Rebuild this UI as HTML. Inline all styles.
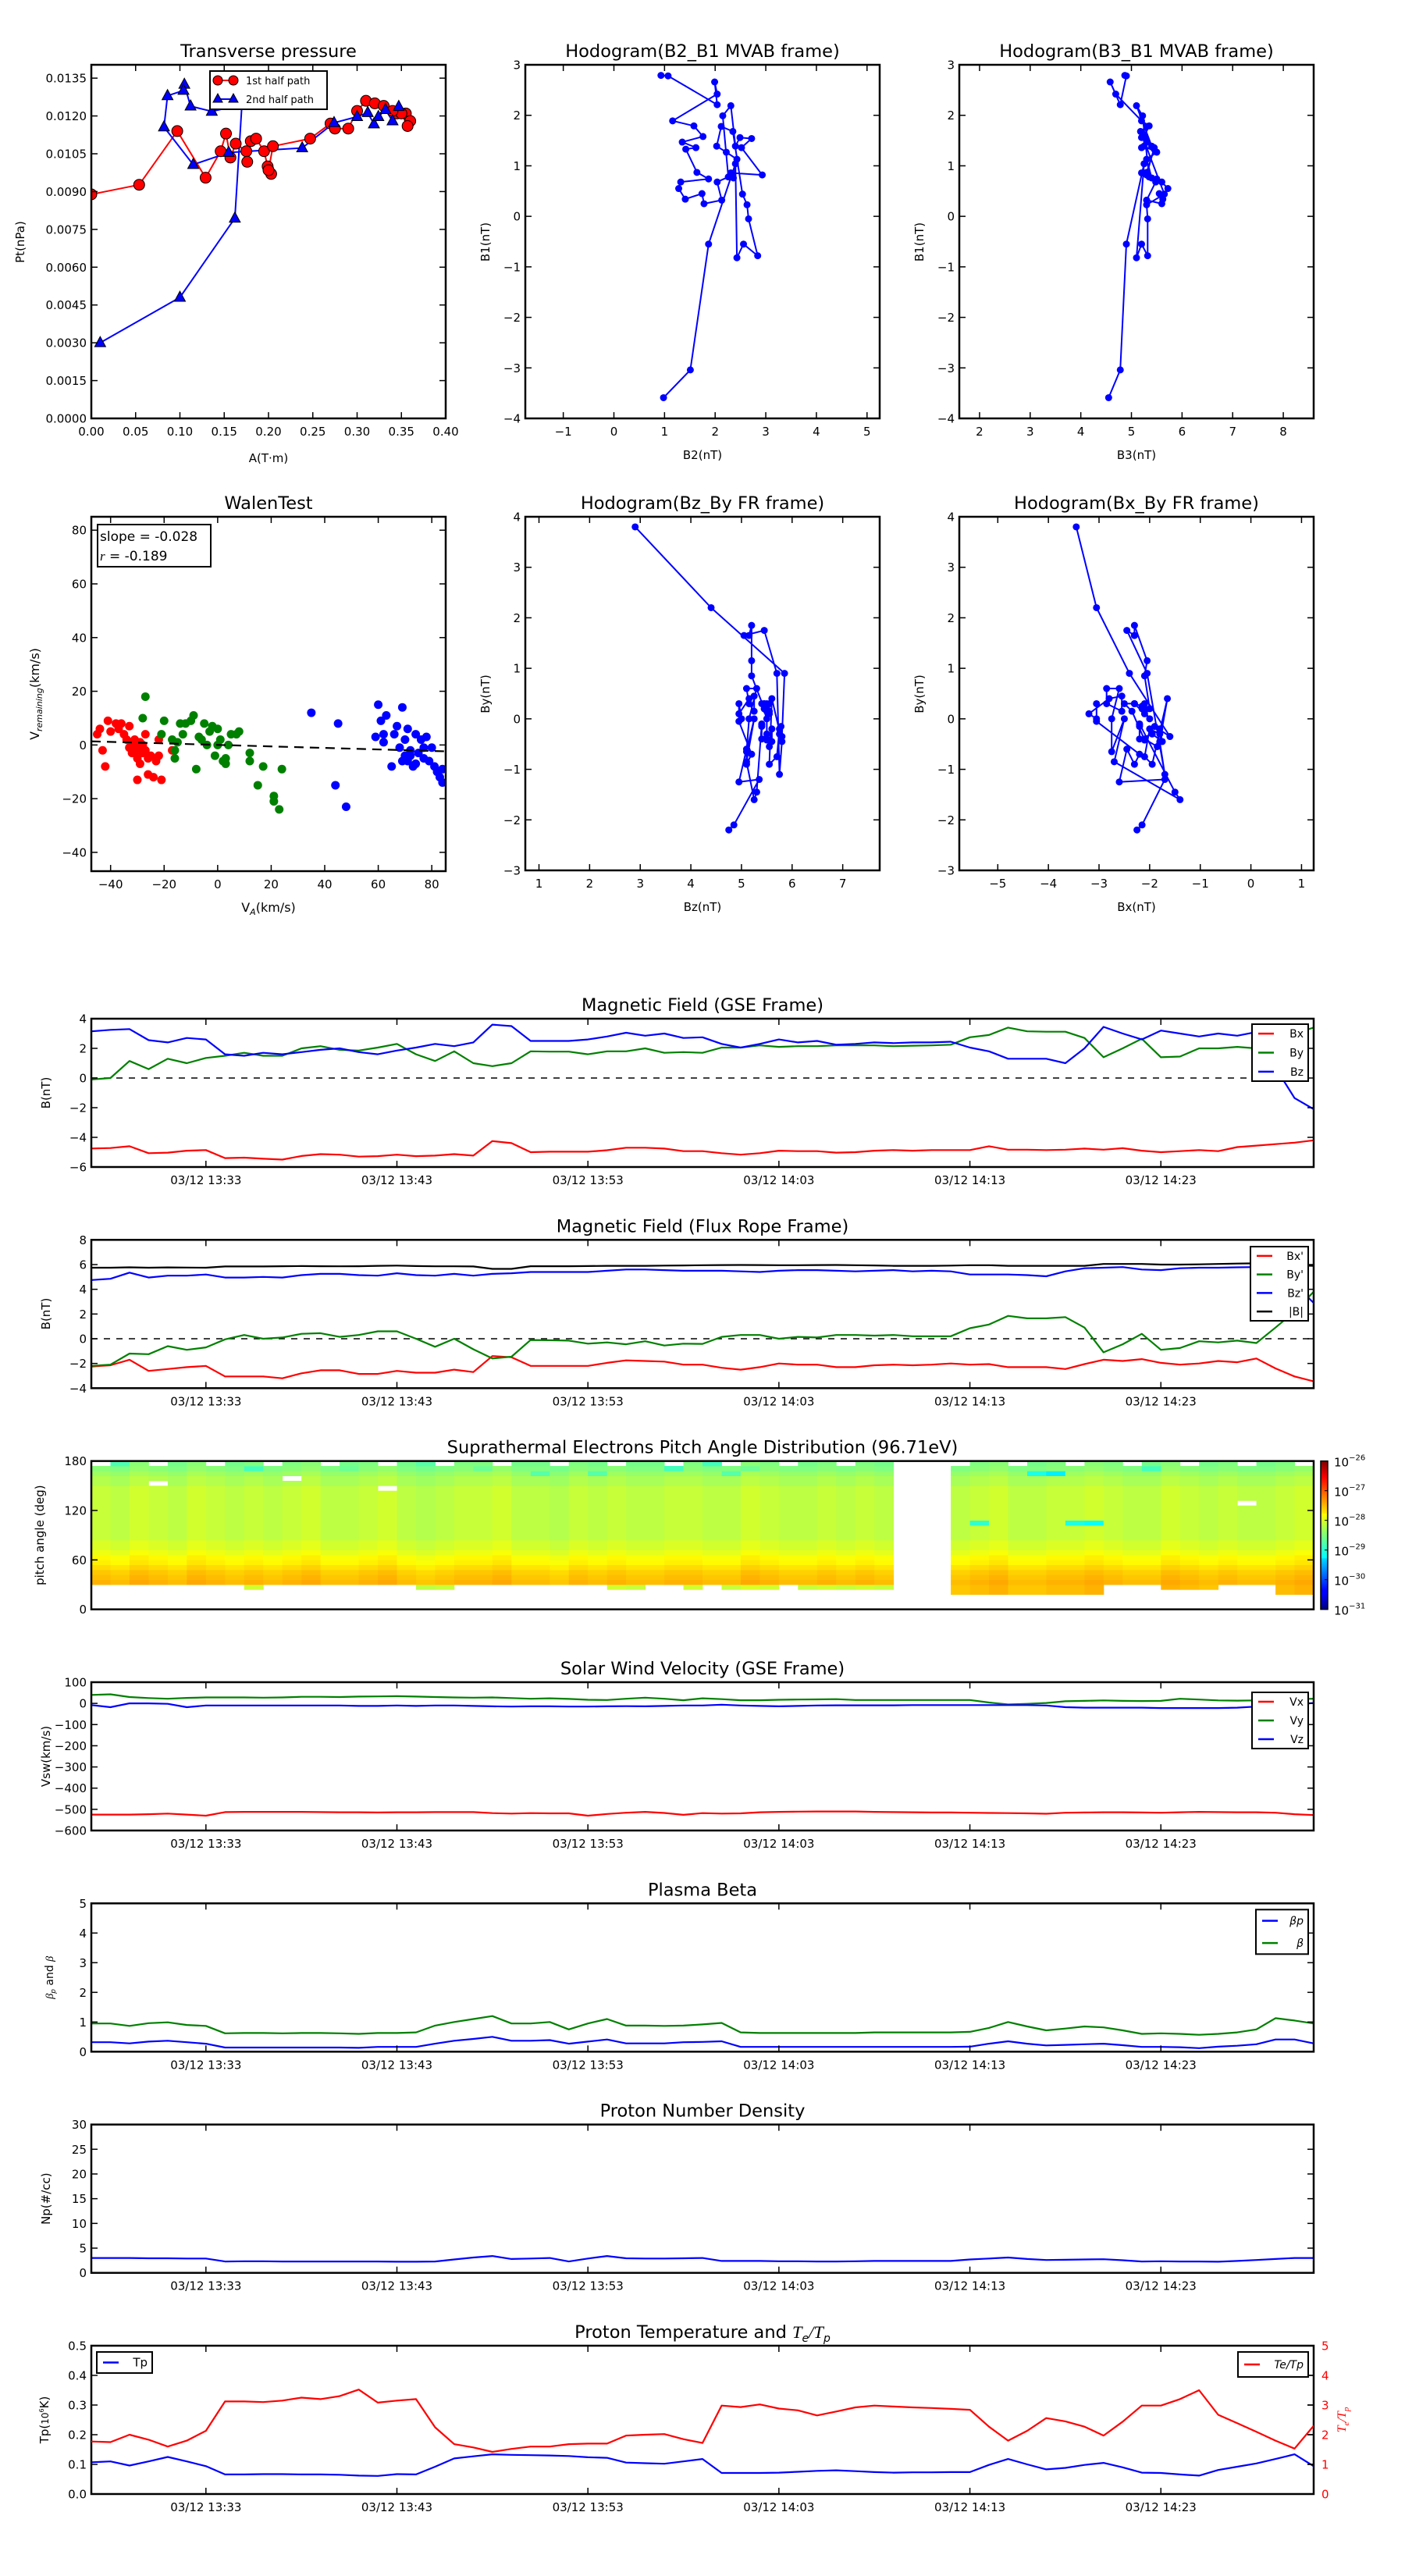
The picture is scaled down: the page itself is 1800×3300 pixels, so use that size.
<!DOCTYPE html>
<html><head><meta charset="utf-8"><title>Flux rope analysis</title>
<style>
html,body{margin:0;padding:0;background:#fff;}
svg{display:block;font-family:"DejaVu Sans","Liberation Sans",sans-serif;}
</style></head>
<body>
<svg id="fig" xmlns="http://www.w3.org/2000/svg" width="1800" height="3300" viewBox="0 0 1800 3300">
<rect x="0" y="0" width="1800" height="3300" fill="#fff"/>
<defs>
<linearGradient id="jet" x1="0" y1="1" x2="0" y2="0">
<stop offset="0" stop-color="#00007f"/><stop offset="0.11" stop-color="#0000ff"/><stop offset="0.125" stop-color="#0000ff"/>
<stop offset="0.34" stop-color="#00d4ff"/><stop offset="0.35" stop-color="#0ff"/><stop offset="0.5" stop-color="#7dff7a"/>
<stop offset="0.64" stop-color="#ff0"/><stop offset="0.65" stop-color="#ffe600"/><stop offset="0.89" stop-color="#f00"/><stop offset="1" stop-color="#7f0000"/>
</linearGradient>
</defs>
</svg>
<script>
// ---------------- DATA ----------------
// Transverse pressure
const tpA1=[0,0.054,0.097,0.129,0.146,0.152,0.157,0.163,0.175,0.176,0.18,0.186,0.195,0.199,0.203,0.2,0.205,0.247,0.27,0.275,0.29,0.3,0.31,0.32,0.33,0.345,0.355,0.36,0.357,0.35,0.34];
const tpP1=[0.00889,0.00927,0.0114,0.00955,0.0106,0.0113,0.01035,0.0109,0.0106,0.01018,0.011,0.0111,0.0106,0.01,0.0097,0.00985,0.0108,0.0111,0.0117,0.0115,0.0115,0.0122,0.0126,0.0125,0.0124,0.0121,0.0121,0.0118,0.0116,0.0121,0.0122];
const tpA2=[0.01,0.1,0.162,0.17,0.136,0.112,0.105,0.104,0.086,0.082,0.115,0.155,0.238,0.274,0.3,0.312,0.319,0.324,0.332,0.34,0.347];
const tpP2=[0.003,0.0048,0.00794,0.01244,0.01218,0.01239,0.01325,0.01301,0.0128,0.01156,0.01007,0.01055,0.01073,0.01173,0.01197,0.01213,0.01168,0.01197,0.01225,0.0118,0.01237];
// MVAB hodogram
const mvB2=[0.93,1.07,2.04,1.99,2.04,1.16,1.58,1.76,1.35,1.62,1.42,1.64,1.87,1.32,1.28,1.41,1.74,1.78,2.13,2.04,2.26,2.15,2.31,2.4,2.49,2.72,2.52,2.93,2.31,2.36,2.43,2.22,2.03,2.12,2.35,2.54,2.63,2.66,2.84,2.56,2.43,2.4,1.87,1.51,0.98];
const mvB1=[2.79,2.78,2.21,2.66,2.42,1.89,1.79,1.58,1.47,1.36,1.33,0.87,0.74,0.68,0.55,0.34,0.45,0.25,0.32,0.68,0.78,1.99,2.19,1.39,1.56,1.54,1.36,0.82,0.86,0.76,1.13,1.27,1.39,1.78,1.68,0.44,0.23,-0.05,-0.78,-0.55,-0.82,1.04,-0.55,-3.04,-3.59];
const mvB3=[4.87,4.9,4.78,4.58,4.69,5.2,5.35,5.25,5.3,5.2,5.45,5.3,5.5,5.6,5.72,5.62,5.55,5.6,5.3,5.48,5.35,5.22,5.1,5.4,5.2,5.28,5.45,5.3,5.2,5.4,5.3,5.5,5.25,5.3,5.18,5.65,5.3,5.32,5.32,5.2,5.1,5.25,4.9,4.78,4.55];
// Walen test
const wRedVA=[-44,-45,-43,-41,-42,-40,-38,-37,-36,-35,-34,-33,-32,-31,-31,-30,-30,-29,-28,-27,-27,-26,-25,-24,-23,-22,-21,-33,-32,-29,-26,-17,-30,-28,-31,-22];
const wRedVR=[6,4,-2,9,-8,5,8,6,8,4,2,7,0,-3,2,-5,-13,-7,0,-2,4,-11,-4,-12,-6,-4,-13,-1,-3,1,-5,-2,-1,-3,0,2];
const wGrnVA=[-27,-28,-20,-21,-16,-16,-15,-13,-12,-10,-9,-8,-7,-5,-4,-3,-2,-1,0,1,2,3,4,5,7,8,12,12,15,17,21,21,23,24,-6,0,-14,-17,3];
const wGrnVR=[18,10,9,4,-2,-5,1,4,8,9,11,-9,3,8,0,5,7,-4,6,2,-6,-7,0,4,4,5,-3,-6,-15,-8,-21,-19,-24,-9,2,0,8,2,-5];
const wBluVA=[35,44,45,48,59,60,61,62,63,65,66,67,68,69,69,70,71,71,72,73,74,75,76,77,77,78,79,80,81,82,83,84,84,72,74,62,70];
const wBluVR=[12,-15,8,-23,3,15,9,1,11,-8,4,7,-1,14,-6,2,6,-6,-2,-8,4,-3,2,-5,-1,3,-6,-1,-8,-10,-12,-9,-14,-4,-7,4,-4];
const walenSlope=-0.028, walenIntercept=0.02;
// Time series (1-minute samples from 13:27)
const tickMinutes=[6,16,26,36,46,56];
const tickLabels=["03/12 13:33","03/12 13:43","03/12 13:53","03/12 14:03","03/12 14:13","03/12 14:23"];
const gseBx=[-4.75,-4.72,-4.6,-5.07,-5.03,-4.9,-4.86,-5.4,-5.37,-5.44,-5.5,-5.26,-5.13,-5.17,-5.3,-5.27,-5.17,-5.27,-5.23,-5.13,-5.23,-4.25,-4.39,-5.0,-4.97,-4.97,-4.97,-4.87,-4.7,-4.7,-4.76,-4.93,-4.93,-5.07,-5.17,-5.07,-4.9,-4.93,-4.93,-5.03,-5.0,-4.9,-4.86,-4.9,-4.86,-4.86,-4.86,-4.6,-4.83,-4.83,-4.86,-4.83,-4.76,-4.83,-4.73,-4.9,-5.0,-4.93,-4.86,-4.93,-4.66,-4.56,-4.46,-4.36,-4.2];
const gseBy=[-0.1,0,1.15,0.6,1.3,1.0,1.35,1.5,1.7,1.5,1.5,2.0,2.15,1.9,1.85,2.05,2.3,1.6,1.15,1.8,1.0,0.8,1.0,1.8,1.78,1.78,1.6,1.8,1.8,2.0,1.7,1.75,1.7,2.05,2.05,2.2,2.1,2.15,2.15,2.2,2.2,2.2,2.15,2.18,2.2,2.25,2.75,2.9,3.4,3.15,3.12,3.12,2.7,1.4,2.0,2.65,1.4,1.45,2.0,2.0,2.1,2.0,2.2,3.0,3.4];
const gseBz=[3.15,3.25,3.3,2.55,2.4,2.7,2.6,1.6,1.5,1.7,1.6,1.75,1.9,2.0,1.75,1.6,1.85,2.05,2.3,2.15,2.4,3.6,3.5,2.5,2.5,2.5,2.6,2.8,3.05,2.85,3.0,2.7,2.75,2.3,2.05,2.3,2.6,2.4,2.5,2.25,2.3,2.4,2.35,2.4,2.4,2.45,2.05,1.8,1.3,1.3,1.3,1.0,2.0,3.45,3.0,2.6,3.2,3.0,2.8,3.0,2.85,3.1,0.7,-1.35,-2.1];
const frBx=[-2.25,-2.15,-1.7,-2.6,-2.45,-2.3,-2.2,-3.05,-3.05,-3.05,-3.2,-2.8,-2.55,-2.55,-2.85,-2.85,-2.6,-2.75,-2.75,-2.5,-2.7,-1.4,-1.5,-2.2,-2.2,-2.2,-2.2,-1.95,-1.75,-1.8,-1.85,-2.1,-2.1,-2.35,-2.5,-2.3,-2.0,-2.1,-2.1,-2.3,-2.3,-2.15,-2.1,-2.15,-2.1,-2.0,-2.1,-2.05,-2.3,-2.3,-2.3,-2.45,-2.05,-1.7,-1.8,-1.65,-1.95,-2.1,-2.0,-1.8,-1.9,-1.6,-2.4,-3.05,-3.45];
const frBy=[-2.2,-2.1,-1.2,-1.25,-0.6,-0.9,-0.7,-0.05,0.3,0,0.1,0.4,0.45,0.15,0.3,0.6,0.6,0,-0.65,0,-0.85,-1.6,-1.45,-0.1,-0.12,-0.15,-0.4,-0.3,-0.45,-0.2,-0.55,-0.4,-0.42,0.15,0.3,0.3,0,0.15,0.1,0.3,0.3,0.25,0.3,0.2,0.2,0.2,0.85,1.15,1.85,1.65,1.65,1.75,0.9,-1.1,-0.45,0.4,-0.9,-0.75,-0.2,-0.3,-0.15,-0.35,0.9,2.2,3.8];
const frBz=[4.75,4.85,5.35,4.95,5.1,5.1,5.2,4.95,4.95,5.0,4.95,5.15,5.25,5.25,5.15,5.1,5.3,5.15,5.1,5.25,5.1,5.25,5.3,5.4,5.4,5.4,5.4,5.5,5.6,5.6,5.55,5.5,5.5,5.5,5.45,5.4,5.5,5.55,5.55,5.5,5.45,5.5,5.55,5.45,5.5,5.45,5.2,5.2,5.2,5.15,5.05,5.45,5.7,5.75,5.8,5.6,5.55,5.7,5.75,5.75,5.78,5.8,5.85,4.4,2.9];
const frBt=[5.75,5.75,5.78,5.75,5.77,5.76,5.75,5.85,5.85,5.85,5.87,5.88,5.87,5.86,5.87,5.9,5.92,5.88,5.86,5.86,5.85,5.65,5.65,5.87,5.87,5.87,5.88,5.9,5.9,5.9,5.92,5.93,5.95,5.96,5.97,5.96,5.95,5.95,5.96,5.97,5.95,5.93,5.9,5.9,5.9,5.92,5.95,5.95,5.9,5.9,5.9,5.9,5.9,6.05,6.05,6.05,6.0,6.0,6.02,6.05,6.08,6.1,6.0,5.95,5.9];
// Pitch-angle distribution: log10 flux = row profile + column offset
const padRowProfile=[null,null,null,-27.6,-28.15,-27.55,-27.6,-27.65,-27.75,-27.85,-27.9,-28.0,-28.1,-28.1,-28.2,-28.2,-28.2,-28.2,-28.2,-28.2,-28.2,-28.2,-28.2,-28.2,-28.2,-28.3,-28.3,-28.4,-28.5,-28.55];
const padColOffset=[0.05,0,0.1,0.05,0,0.1,0.05,0,0.05,0, 0.05,0.1,0,0,0.05,0.1,0,-0.05,0,0.05, 0.05,0.1,0,0,-0.05,0.05,0,0.05,0,0, 0.05,0.05,0,0,0.1,0.05,0,0,0.05,0, 0.05,0,null,null,null,0,0.05,0.1,0,0, 0.05,0.05,0.1,0.05,0,0,0.1,0.05,0,0.05, 0,0,0.05,0.1];
const padMinBin=[5,5,5,5,5,5,5,5,4,5, 5,5,5,5,5,5,5,4,4,5, 5,5,5,5,5,5,5,4,4,5, 5,4,5,4,4,4,5,4,4,4, 4,4,0,0,0,3,3,3,2,2, 3,3,3,5,5,5,4,4,4,5, 5,5,3,3];
const padSpecialCols=[1,6,8,13,17,18,20,26,32,33,34,49,50,51,52,3,10,15,23,30,46,55,60];
const padSpecialBins=[29,29,28,28,29,29,28,27,29,27,28,27,27,17,17,25,26,24,27,28,17,28,21];
const padSpecialVals=[-28.75,-28.7,-28.8,-28.6,-28.7,-28.75,-28.6,-28.7,-28.8,-28.7,-28.6,-29.0,-29.2,-29.0,-29.1,null,null,null,-28.7,-28.8,-28.9,-28.8,null];
const cbarTicks=[-26,-27,-28,-29,-30,-31];
// Solar wind velocity
const vx=[-525,-525,-525,-523,-520,-525,-530,-513,-512,-512,-512,-512,-513,-514,-514,-515,-514,-514,-513,-513,-513,-518,-520,-518,-519,-519,-530,-522,-516,-512,-517,-526,-518,-520,-519,-514,-512,-511,-510,-510,-510,-512,-513,-514,-515,-515,-516,-517,-518,-519,-521,-516,-515,-514,-514,-515,-516,-514,-512,-513,-514,-514,-516,-523,-527];
const vy=[40,43,30,25,22,26,28,28,28,27,28,31,31,30,32,33,34,32,30,28,27,28,25,22,24,21,17,16,22,27,22,15,24,20,15,15,17,18,19,20,16,16,16,16,16,16,16,4,-5,-2,2,10,12,14,12,11,12,22,18,14,13,14,16,20,22];
const vz=[-8,-18,0,0,-2,-18,-10,-10,-10,-10,-10,-10,-10,-10,-12,-12,-10,-12,-10,-10,-12,-14,-15,-14,-14,-15,-15,-14,-13,-14,-12,-10,-10,-6,-10,-12,-14,-12,-10,-9,-9,-9,-9,-8,-8,-8,-8,-8,-8,-8,-10,-18,-20,-20,-20,-20,-22,-22,-22,-22,-20,-15,-10,-5,2];
// Plasma beta
const betaP=[0.32,0.32,0.28,0.34,0.37,0.32,0.27,0.14,0.14,0.14,0.14,0.14,0.14,0.14,0.13,0.16,0.16,0.16,0.27,0.37,0.43,0.5,0.37,0.37,0.39,0.27,0.34,0.41,0.28,0.28,0.28,0.32,0.33,0.35,0.16,0.16,0.16,0.16,0.16,0.16,0.16,0.16,0.16,0.16,0.16,0.16,0.17,0.27,0.35,0.27,0.21,0.23,0.25,0.27,0.22,0.16,0.16,0.15,0.12,0.17,0.2,0.25,0.41,0.41,0.28];
const betaT=[0.95,0.95,0.87,0.96,0.99,0.9,0.87,0.62,0.63,0.63,0.62,0.63,0.63,0.62,0.6,0.63,0.63,0.65,0.88,1.0,1.1,1.2,0.95,0.95,1.0,0.75,0.95,1.1,0.88,0.88,0.87,0.88,0.92,0.97,0.65,0.63,0.63,0.63,0.63,0.63,0.63,0.65,0.65,0.65,0.65,0.65,0.67,0.8,1.0,0.85,0.72,0.78,0.85,0.82,0.72,0.6,0.62,0.6,0.57,0.6,0.65,0.75,1.13,1.05,0.95];
// Density
const np=[3.0,3.0,3.0,2.95,2.95,2.9,2.9,2.3,2.35,2.35,2.3,2.3,2.3,2.3,2.3,2.3,2.25,2.25,2.3,2.7,3.1,3.4,2.8,2.9,3.0,2.3,2.9,3.4,2.95,2.9,2.9,2.95,3.0,2.4,2.4,2.4,2.35,2.35,2.3,2.3,2.35,2.4,2.4,2.4,2.4,2.4,2.7,2.9,3.1,2.8,2.6,2.65,2.7,2.75,2.55,2.3,2.35,2.3,2.3,2.25,2.4,2.6,2.8,3.0,3.0];
// Temperature
const tp=[0.107,0.11,0.096,0.11,0.125,0.11,0.094,0.066,0.066,0.067,0.067,0.066,0.066,0.065,0.062,0.061,0.067,0.066,0.092,0.12,0.127,0.134,0.132,0.131,0.13,0.128,0.124,0.122,0.106,0.104,0.102,0.11,0.118,0.071,0.071,0.071,0.072,0.075,0.078,0.08,0.077,0.074,0.072,0.073,0.073,0.074,0.074,0.098,0.118,0.1,0.083,0.088,0.098,0.105,0.09,0.072,0.071,0.066,0.062,0.081,0.092,0.103,0.118,0.134,0.094];
const teTp=[1.77,1.75,2.0,1.83,1.6,1.8,2.13,3.12,3.12,3.1,3.15,3.25,3.2,3.3,3.52,3.08,3.15,3.2,2.25,1.68,1.57,1.42,1.52,1.6,1.6,1.68,1.7,1.7,1.97,2.0,2.02,1.85,1.72,2.98,2.93,3.02,2.88,2.82,2.65,2.78,2.92,2.98,2.95,2.92,2.9,2.87,2.84,2.27,1.8,2.13,2.56,2.45,2.27,1.97,2.44,2.98,2.98,3.2,3.5,2.67,2.39,2.1,1.8,1.53,2.3];

// ---------------- DRAWING ----------------
const NS='http://www.w3.org/2000/svg';
const svg=document.getElementById('fig');
function mk(tag,attrs,parent){const e=document.createElementNS(NS,tag);for(const k in attrs)e.setAttribute(k,attrs[k]);(parent||svg).appendChild(e);return e;}
function text(x,y,s,size,anchor,parent,name,extra){
  const t=mk('text',Object.assign({x:x,y:y,'font-size':size,'text-anchor':anchor||'middle',fill:'#000'},extra||{}),parent);
  t.textContent=s;
  
  
  return t;
}
const MINUS='\u2212';
function fmt(v,d){const s=Math.abs(v).toFixed(d);return (v<0?MINUS:'')+s;}
let clipId=0;
function axes(name,x0,y0,w,h,xr,yr){
  const g=mk('g',{});
  
  
  const id='clip'+(clipId++);
  const cp=mk('clipPath',{id:id},g);
  mk('rect',{x:x0,y:y0,width:w,height:h},cp);
  const inner=mk('g',{'clip-path':'url(#'+id+')'},g);
  
  
  return {g,inner,x0,y0,w,h,xr,yr,
    sx:v=>x0+(v-xr[0])/(xr[1]-xr[0])*w,
    sy:v=>y0+h-(v-yr[0])/(yr[1]-yr[0])*h};
}
function frame(ax){
  const r=mk('rect',{x:ax.x0,y:ax.y0,width:ax.w,height:ax.h,fill:'none',stroke:'#000','stroke-width':2.5},ax.g);
  
  
}
function yticks(ax,vals,labels,opts){
  opts=opts||{};
  const g=mk('g',{},ax.g);
  
  
  vals.forEach((v,i)=>{
    const y=ax.sy(v);
    if(!opts.noLeft) mk('line',{x1:ax.x0,x2:ax.x0+8,y1:y,y2:y,stroke:'#000','stroke-width':1.5},g);
    mk('line',{x1:ax.x0+ax.w-8,x2:ax.x0+ax.w,y1:y,y2:y,stroke:'#000','stroke-width':1.5},g);
    if(opts.right) text(ax.x0+ax.w+10,y+5.5,labels[i],opts.size||15,'start',g,'y-tick-label',{fill:opts.color||'#000'});
    else text(ax.x0-6,y+5.5,labels[i],opts.size||15,'end',g,'y-tick-label');
  });
}
function xticks(ax,vals,labels,size){
  const g=mk('g',{},ax.g);
  
  
  vals.forEach((v,i)=>{
    const x=ax.sx(v);
    mk('line',{x1:x,x2:x,y1:ax.y0+ax.h,y2:ax.y0+ax.h-8,stroke:'#000','stroke-width':1.5},g);
    mk('line',{x1:x,x2:x,y1:ax.y0,y2:ax.y0+8,stroke:'#000','stroke-width':1.5},g);
    text(x,ax.y0+ax.h+22,labels[i],size||15,'middle',g,'x-tick-label');
  });
}
function ylabel(x,yc,s,name,size,color){
  const t=text(x,yc,s,size||15,'middle',svg,name,{transform:'rotate(-90 '+x+' '+yc+')',fill:color||'#000'});
  return t;
}
function polyline(ax,xs,ys,color,name,width,dash){
  const pts=xs.map((x,i)=>ax.sx(x).toFixed(1)+','+ax.sy(ys[i]).toFixed(1)).join(' ');
  const p=mk('polyline',{points:pts,fill:'none',stroke:color,'stroke-width':width||2.2,'stroke-linejoin':'round'},ax.inner);
  if(dash)p.setAttribute('stroke-dasharray',dash);
  
  
  return p;
}
function legendBox(x,y,w,h,entries,name,italic){
  const g=mk('g',{});
  
  
  mk('rect',{x:x,y:y,width:w,height:h,fill:'#fff',stroke:'#000','stroke-width':2},g);
  const step=h/entries.length;
  entries.forEach((e,i)=>{
    const cy=y+step*(i+0.5);
    const ln=mk('line',{x1:x+8,x2:x+28,y1:cy,y2:cy,stroke:e.color,'stroke-width':2.5},g);
    
    
    const t=text(x+w-6,cy+5,e.label,e.size||14,'end',g,'legend-entry');
    if(italic)t.setAttribute('font-style','italic');
  });
  return g;
}
const idx=n=>Array.from({length:n},(_,i)=>i);

// ===== Transverse pressure =====
{
  const ax=axes('transverse-pressure-chart',117,83,454,453,[0,0.40],[0,0.01403]);
  text(344,73,'Transverse pressure',22.5,'middle',ax.g,'chart-title');
  const yv=[],yl=[];for(let i=0;i<=9;i++){yv.push(i*0.0015);yl.push((i*0.0015).toFixed(4));}
  yticks(ax,yv,yl);
  const xv=[],xl=[];for(let i=0;i<=8;i++){xv.push(i*0.05);xl.push((i*0.05).toFixed(2));}
  xticks(ax,xv,xl);
  ylabel(31,310,'Pt(nPa)','y-axis-title');
  text(344,592,'A(T\u00B7m)',15,'middle',svg,'x-axis-title');
  polyline(ax,tpA1,tpP1,'#f00','first-half-path-line',2);
  polyline(ax,tpA2,tpP2,'#00f','second-half-path-line',2);
  tpA1.forEach((a,i)=>{const c=mk('circle',{cx:ax.sx(a),cy:ax.sy(tpP1[i]),r:7,fill:'#f00',stroke:'#000','stroke-width':1},ax.inner);
    
    });
  tpA2.forEach((a,i)=>{const x=ax.sx(a),y=ax.sy(tpP2[i]);
    const t=mk('polygon',{points:`${x},${y-8} ${x-7},${y+5} ${x+7},${y+5}`,fill:'#00f',stroke:'#000','stroke-width':1},ax.inner);
    
    });
  frame(ax);
  const lg=mk('g',{});
  
  
  mk('rect',{x:269,y:91,width:150,height:49,fill:'#fff',stroke:'#000','stroke-width':2},lg);
  mk('line',{x1:279,x2:299,y1:103,y2:103,stroke:'#f00','stroke-width':2},lg);
  mk('circle',{cx:279,cy:103,r:6,fill:'#f00',stroke:'#000'},lg);
  mk('circle',{cx:299,cy:103,r:6,fill:'#f00',stroke:'#000'},lg);
  text(315,108,'1st half path',13,'start',lg,'legend-entry');
  mk('line',{x1:279,x2:299,y1:127,y2:127,stroke:'#00f','stroke-width':2},lg);
  mk('polygon',{points:'279,120 273,131 285,131',fill:'#00f',stroke:'#000'},lg);
  mk('polygon',{points:'299,120 293,131 305,131',fill:'#00f',stroke:'#000'},lg);
  text(315,132,'2nd half path',13,'start',lg,'legend-entry');
}

// ===== Hodogram helper =====
function hodogram(name,title,x0,y0,xr,yr,xs,ys,xt,yt,xlab,ylab,ylabX){
  const ax=axes(name,x0,y0,454,453,xr,yr);
  text(x0+227,y0-10,title,22.5,'middle',ax.g,'chart-title');
  yticks(ax,yt,yt.map(v=>fmt(v,0)));
  xticks(ax,xt,xt.map(v=>fmt(v,0)));
  ylabel(ylabX,y0+227,ylab,'y-axis-title');
  text(x0+227,y0+453+52,xlab,15,'middle',svg,'x-axis-title');
  polyline(ax,xs,ys,'#00f','hodogram-path',2);
  xs.forEach((v,i)=>{const c=mk('circle',{cx:ax.sx(v),cy:ax.sy(ys[i]),r:4.5,fill:'#00f'},ax.inner);
    
    });
  frame(ax);
}
hodogram('hodogram-b2-b1','Hodogram(B2_B1 MVAB frame)',673,83,[-1.75,5.25],[-4,3],mvB2,mvB1,[-1,0,1,2,3,4,5],[-4,-3,-2,-1,0,1,2,3],'B2(nT)','B1(nT)',627);
hodogram('hodogram-b3-b1','Hodogram(B3_B1 MVAB frame)',1229,83,[1.6,8.6],[-4,3],mvB3,mvB1,[2,3,4,5,6,7,8],[-4,-3,-2,-1,0,1,2,3],'B3(nT)','B1(nT)',1183);
hodogram('hodogram-bz-by','Hodogram(Bz_By FR frame)',673,662,[0.73,7.73],[-3,4],frBz,frBy,[1,2,3,4,5,6,7],[-3,-2,-1,0,1,2,3,4],'Bz(nT)','By(nT)',627);
hodogram('hodogram-bx-by','Hodogram(Bx_By FR frame)',1229,662,[-5.76,1.24],[-3,4],frBx,frBy,[-5,-4,-3,-2,-1,0,1],[-3,-2,-1,0,1,2,3,4],'Bx(nT)','By(nT)',1183);

// ===== Walen test =====
{
  const ax=axes('walen-test-chart',117,662,454,454,[-47.2,85.2],[-47,85]);
  text(344,652,'WalenTest',22.5,'middle',ax.g,'chart-title');
  const yt=[-40,-20,0,20,40,60,80];
  yticks(ax,yt,yt.map(v=>fmt(v,0)));
  xticks(ax,[-40,-20,0,20,40,60,80],[-40,-20,0,20,40,60,80].map(v=>fmt(v,0)));
  const yl=mk('text',{x:50,y:889,'font-size':16,'text-anchor':'middle',transform:'rotate(-90 50 889)'});
  
  
  yl.innerHTML='V<tspan font-size="11" font-style="italic" dy="4">remaining</tspan><tspan dy="-4">(km/s)</tspan>';
  const xl=mk('text',{x:344,y:1168,'font-size':16,'text-anchor':'middle'});
  
  
  xl.innerHTML='V<tspan font-size="11" font-style="italic" dy="4">A</tspan><tspan dy="-4">(km/s)</tspan>';
  [[wRedVA,wRedVR,'#f00','walen-point-red'],[wGrnVA,wGrnVR,'#008000','walen-point-green'],[wBluVA,wBluVR,'#00f','walen-point-blue']].forEach(s=>{
    s[0].forEach((v,i)=>{const c=mk('circle',{cx:ax.sx(v),cy:ax.sy(s[1][i]),r:5.5,fill:s[2]},ax.inner);
      
      });
  });
  const fx=[ax.xr[0],ax.xr[1]];
  polyline(ax,fx,fx.map(v=>walenIntercept+walenSlope*v),'#000','walen-fit-line',2.2,'12,8');
  frame(ax);
  const bx=mk('g',{});
  
  
  mk('rect',{x:125,y:672,width:145,height:54,fill:'#fff',stroke:'#000','stroke-width':2},bx);
  text(128,693,'slope = -0.028',17,'start',bx,'slope-text');
  const rt=mk('text',{x:128,y:718,'font-size':17},bx);
  
  
  rt.innerHTML='<tspan font-style="italic" font-family="Liberation Serif,serif">r</tspan> = -0.189';
}

// ===== Time panels =====
const PX=117,PW=1566,PH=190,PITCH=283.33,TOP0=1305;
function timePanel(k,name,title,yr,yt,ylab){
  const top=TOP0+k*PITCH;
  const ax=axes(name,PX,top,PW,PH,[0,64],yr);
  text(PX+PW/2,top-10,title,22.5,'middle',ax.g,'chart-title');
  xticks(ax,tickMinutes,tickLabels,15);
  if(ylab) ylabel(64,top+PH/2,ylab,'y-axis-title');
  return ax;
}
// GSE
{
  const ax=timePanel(0,'magnetic-field-gse-chart','Magnetic Field (GSE Frame)',[-6,4]);
  yticks(ax,[-6,-4,-2,0,2,4],['\u22126','\u22124','\u22122','0','2','4']);
  ylabel(64,1400,'B(nT)','y-axis-title');
  polyline(ax,[0,64],[0,0],'#000','zero-line',1.5,'8,8');
  polyline(ax,idx(gseBx.length),gseBx,'#f00','series-bx');
  polyline(ax,idx(gseBy.length),gseBy,'#008000','series-by');
  polyline(ax,idx(gseBz.length),gseBz,'#00f','series-bz');
  frame(ax);
  legendBox(1604,1312,72,73,[{label:'Bx',color:'#f00'},{label:'By',color:'#008000'},{label:'Bz',color:'#00f'}],'gse-legend');
}
// Flux rope
{
  const ax=timePanel(1,'magnetic-field-fr-chart','Magnetic Field (Flux Rope Frame)',[-4,8]);
  yticks(ax,[-4,-2,0,2,4,6,8],['\u22124','\u22122','0','2','4','6','8']);
  ylabel(64,1683,'B(nT)','y-axis-title');
  polyline(ax,[0,64],[0,0],'#000','zero-line',1.5,'8,8');
  polyline(ax,idx(frBx.length),frBx,'#f00','series-bx-prime');
  polyline(ax,idx(frBy.length),frBy,'#008000','series-by-prime');
  polyline(ax,idx(frBz.length),frBz,'#00f','series-bz-prime');
  polyline(ax,idx(frBt.length),frBt,'#000','series-b-magnitude');
  frame(ax);
  legendBox(1602,1597,74,95,[{label:"Bx'",color:'#f00'},{label:"By'",color:'#008000'},{label:"Bz'",color:'#00f'},{label:'|B|',color:'#000'}],'fr-legend');
}
// PAD heatmap
function jet(v){
  let t=(v+31)/5;t=Math.max(0,Math.min(1,t));
  const c=x=>Math.round(255*Math.max(0,Math.min(1,1.5-Math.abs(4*t-x))));
  return `rgb(${c(3)},${c(2)},${c(1)})`;
}
{
  const top=TOP0+2*PITCH;
  const ax=axes('pitch-angle-heatmap',PX,top,PW,PH,[0,64],[0,180]);
  text(PX+PW/2,top-10,'Suprathermal Electrons Pitch Angle Distribution (96.71eV)',22.5,'middle',ax.g,'chart-title');
  const cells=mk('g',{},ax.inner);
  
  
  const sp={};
  padSpecialCols.forEach((c,i)=>{sp[c+'_'+padSpecialBins[i]]=padSpecialVals[i];});
  padColOffset.forEach((off,col)=>{
    if(off===null)return;
    for(let b=padMinBin[col];b<30;b++){
      let v=padRowProfile[b];
      if(v===null)continue;
      if(b<=4&&col>=45)v=-27.6; else if(b<=4) v=-28.15;
      v+=off;
      if(b===29 && ((col*7)%3===0)) continue;
      const key=col+'_'+b;
      if(key in sp){ if(sp[key]===null) continue; v=sp[key]; }
      const x1=ax.sx(col),x2=ax.sx(col+1),y1=ax.sy(b*6+6),y2=ax.sy(b*6);
      const r=mk('rect',{x:x1.toFixed(1),y:y1.toFixed(1),width:(x2-x1+0.4).toFixed(1),height:(y2-y1+0.4).toFixed(1),fill:jet(v)},cells);
      
      
    }
  });
  yticks(ax,[0,60,120,180],['0','60','120','180']);
  ylabel(56,top+PH/2,'pitch angle (deg)','y-axis-title');
  frame(ax);
  const cb=mk('g',{});
  
  
  mk('rect',{x:1692,y:top,width:9,height:PH,fill:'url(#jet)',stroke:'#000','stroke-width':1.5},cb);
  cbarTicks.forEach(e=>{
    const y=top+(-26-e)/5*PH;
    mk('line',{x1:1697,x2:1701,y1:y,y2:y,stroke:'#000'},cb);
    const t=mk('text',{x:1709,y:y+7,'font-size':15},cb);
    
    
    t.innerHTML='10<tspan font-size="10" dy="-8">'+MINUS+Math.abs(e)+'</tspan>';
  });
}
// Velocity
{
  const ax=timePanel(3,'solar-wind-velocity-chart','Solar Wind Velocity (GSE Frame)',[-600,100]);
  const yt=[-600,-500,-400,-300,-200,-100,0,100];
  yticks(ax,yt,yt.map(v=>fmt(v,0)));
  ylabel(64,TOP0+3*PITCH+95,'Vsw(km/s)','y-axis-title');
  polyline(ax,idx(vx.length),vx,'#f00','series-vx');
  polyline(ax,idx(vy.length),vy,'#008000','series-vy');
  polyline(ax,idx(vz.length),vz,'#00f','series-vz');
  frame(ax);
  legendBox(1604,2168,72,72,[{label:'Vx',color:'#f00'},{label:'Vy',color:'#008000'},{label:'Vz',color:'#00f'}],'velocity-legend');
}
// Beta
{
  const top=TOP0+4*PITCH;
  const ax=timePanel(4,'plasma-beta-chart','Plasma Beta',[0,5]);
  yticks(ax,[0,1,2,3,4,5],['0','1','2','3','4','5']);
  const yl=mk('text',{x:68,y:top+95,'font-size':14,'text-anchor':'middle',transform:`rotate(-90 68 ${top+95})`});
  
  
  yl.innerHTML='<tspan font-style="italic" font-family="Liberation Serif,serif">β</tspan><tspan font-size="9" dy="3" font-style="italic">p</tspan><tspan dy="-3"> and </tspan><tspan font-style="italic" font-family="Liberation Serif,serif">β</tspan>';
  polyline(ax,idx(betaP.length),betaP,'#00f','series-beta-p');
  polyline(ax,idx(betaT.length),betaT,'#008000','series-beta');
  frame(ax);
  legendBox(1609,top+8,67,57,[{label:'βp',color:'#00f'},{label:'β',color:'#008000'}],'beta-legend',true);
}
// Density
{
  const ax=timePanel(5,'proton-density-chart','Proton Number Density',[0,30]);
  yticks(ax,[0,5,10,15,20,25,30],['0','5','10','15','20','25','30']);
  ylabel(64,TOP0+5*PITCH+95,'Np(#/cc)','y-axis-title');
  polyline(ax,idx(np.length),np,'#00f','series-np');
  frame(ax);
}
// Temperature
{
  const top=TOP0+6*PITCH;
  const ax=axes('proton-temperature-chart',PX,top,PW,PH,[0,64],[0,0.5]);
  const tt=mk('text',{x:PX+PW/2,y:top-10,'font-size':22.5,'text-anchor':'middle'},ax.g);
  
  
  tt.innerHTML='Proton Temperature and <tspan font-style="italic" font-family="Liberation Serif,serif">T</tspan><tspan font-size="14" dy="5" font-style="italic">e</tspan><tspan dy="-5" font-style="italic" font-family="Liberation Serif,serif">/T</tspan><tspan font-size="14" dy="5" font-style="italic">p</tspan>';
  xticks(ax,tickMinutes,tickLabels,15);
  yticks(ax,[0,0.1,0.2,0.3,0.4,0.5],['0.0','0.1','0.2','0.3','0.4','0.5']);
  const axR=axes('te-tp-axis',PX,top,PW,PH,[0,64],[0,5]);
  yticks(axR,[0,1,2,3,4,5],['0','1','2','3','4','5'],{right:true,noLeft:true,color:'#f00',name:'right-y-axis-ticks'});
  const yl=mk('text',{x:62,y:top+95,'font-size':15,'text-anchor':'middle',transform:`rotate(-90 62 ${top+95})`});
  
  
  yl.innerHTML='Tp(<tspan font-size="12">10</tspan><tspan font-size="8" dy="-6">6</tspan><tspan dy="6">K)</tspan>';
  const yr=mk('text',{x:1724,y:top+95,'font-size':16,'text-anchor':'middle',fill:'#f00','font-style':'italic','font-family':'Liberation Serif,serif',transform:`rotate(-90 1724 ${top+95})`});
  
  
  yr.innerHTML='T<tspan font-size="11" dy="4">e</tspan><tspan dy="-4">/T</tspan><tspan font-size="11" dy="4">p</tspan>';
  polyline(ax,idx(tp.length),tp,'#00f','series-tp');
  polyline(axR,idx(teTp.length),teTp,'#f00','series-te-tp');
  frame(ax);
  legendBox(124,top+8,71,27,[{label:'Tp',color:'#00f',size:15}],'tp-legend');
  legendBox(1586,top+8,90,32,[{label:'Te/Tp',color:'#f00'}],'te-tp-legend',true);
}
</script>
</body></html>
